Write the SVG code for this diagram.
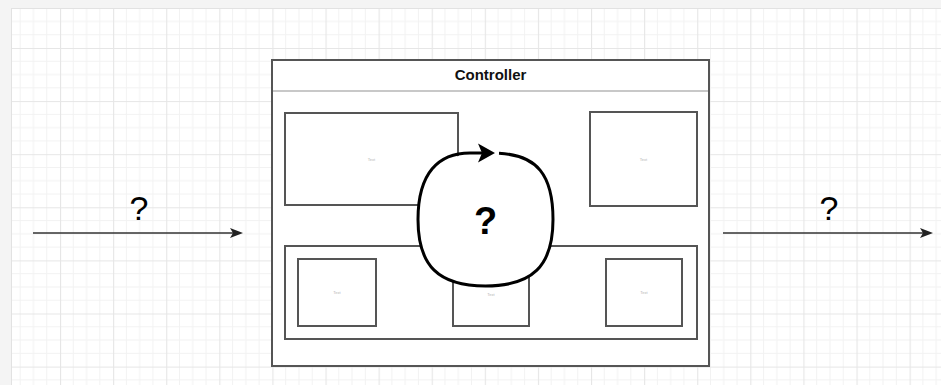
<svg xmlns="http://www.w3.org/2000/svg" width="941" height="385" viewBox="0 0 941 385">
  <defs>
    <pattern id="grid" patternUnits="userSpaceOnUse" x="60" y="48" width="53.1" height="53.1">
      <g stroke="#f2f2f2" stroke-width="1">
        <line x1="13.275" y1="0" x2="13.275" y2="53.1"/>
        <line x1="26.55" y1="0" x2="26.55" y2="53.1"/>
        <line x1="39.825" y1="0" x2="39.825" y2="53.1"/>
        <line x1="0" y1="13.275" x2="53.1" y2="13.275"/>
        <line x1="0" y1="26.55" x2="53.1" y2="26.55"/>
        <line x1="0" y1="39.825" x2="53.1" y2="39.825"/>
      </g>
      <g stroke="#e6e6e6" stroke-width="1.2">
        <line x1="0.5" y1="0" x2="0.5" y2="53.1"/>
        <line x1="0" y1="0.5" x2="53.1" y2="0.5"/>
      </g>
    </pattern>
    <marker id="arrow" markerUnits="userSpaceOnUse" markerWidth="14" markerHeight="10" viewBox="0 0 14 10" refX="3" refY="5" orient="auto">
      <path d="M0,0 L13,5 L0,10 L3,5 Z" fill="#222"/>
    </marker>
    <marker id="loopHead" markerUnits="userSpaceOnUse" markerWidth="18" markerHeight="20" viewBox="0 0 18 20" refX="4" refY="10" orient="auto">
      <path d="M0,0.5 L17,10 L0,19.5 L4,10 Z" fill="#000"/>
    </marker>
    <style>
      .box { fill: #ffffff; stroke: #555555; stroke-width: 2; }
      .tiny { font-family: "Liberation Sans", Arial, sans-serif; font-size: 4px; fill: #b5b5b5; text-anchor: middle; }
      .q { font-family: "Liberation Sans", Arial, sans-serif; text-anchor: middle; fill: #000; }
      .flow { stroke: #333333; stroke-width: 1.6; fill: none; marker-end: url(#arrow); }
    </style>
  </defs>

  <!-- page background and drawing canvas -->
  <rect x="0" y="0" width="941" height="385" fill="#f4f4f4"/>
  <rect x="11" y="8" width="930" height="377" fill="#e2e2e2"/>
  <rect x="12" y="9" width="929" height="376" fill="#ffffff"/>
  <rect x="12" y="9" width="929" height="376" fill="url(#grid)"/>

  <!-- controller container -->
  <g id="controller">
    <rect class="box" x="272" y="60" width="437" height="306"/>
    <line x1="273" y1="91" x2="708" y2="91" stroke="#c8c8c8" stroke-width="2"/>
    <text x="490.5" y="80" font-family="Liberation Sans, Arial, sans-serif" font-size="15" font-weight="bold" text-anchor="middle" fill="#111">Controller</text>
  </g>

  <g id="block-top-left">
    <rect class="box" x="285" y="113" width="173" height="92"/>
    <text class="tiny" x="371.5" y="160.5">Text</text>
  </g>

  <g id="block-top-right">
    <rect class="box" x="590" y="112" width="107" height="94"/>
    <text class="tiny" x="643.5" y="160.5">Text</text>
  </g>

  <g id="block-bottom">
    <rect class="box" x="285" y="246" width="412" height="93"/>
  </g>

  <g id="block-bottom-1">
    <rect class="box" x="298" y="259" width="78" height="67"/>
    <text class="tiny" x="337" y="294">Text</text>
  </g>

  <g id="block-bottom-2">
    <rect class="box" x="453" y="259" width="76" height="67"/>
    <text class="tiny" x="491" y="296">Text</text>
  </g>

  <g id="block-bottom-3">
    <rect class="box" x="606" y="259" width="76" height="67"/>
    <text class="tiny" x="644" y="294">Text</text>
  </g>

  <!-- control loop -->
  <g id="loop">
    <path d="M418,219.5 C418,173 438.5,153 485.5,153 C532.5,153 553,173 553,219.5 C553,266 532.5,286 485.5,286 C438.5,286 418,266 418,219.5 Z" fill="#ffffff" stroke="none"/>
    <path d="M499,153.3 C537,155 553,175 553,219.5 C553,266 532.5,286 485.5,286 C438.5,286 418,266 418,219.5 C418,173 438.5,153 470,153 L482,153" fill="none" stroke="#000" stroke-width="3" marker-end="url(#loopHead)"/>
    <text class="q" x="485.5" y="234" font-size="38" font-weight="bold">?</text>
  </g>

  <!-- input and output flows -->
  <g id="connectors">
    <line class="flow" x1="33" y1="233" x2="233" y2="233"/>
    <line class="flow" x1="723" y1="233" x2="923" y2="233"/>
  </g>
  <g id="labels">
    <text class="q" x="139" y="220" font-size="34">?</text>
    <text class="q" x="829" y="220" font-size="34">?</text>
  </g>
</svg>
